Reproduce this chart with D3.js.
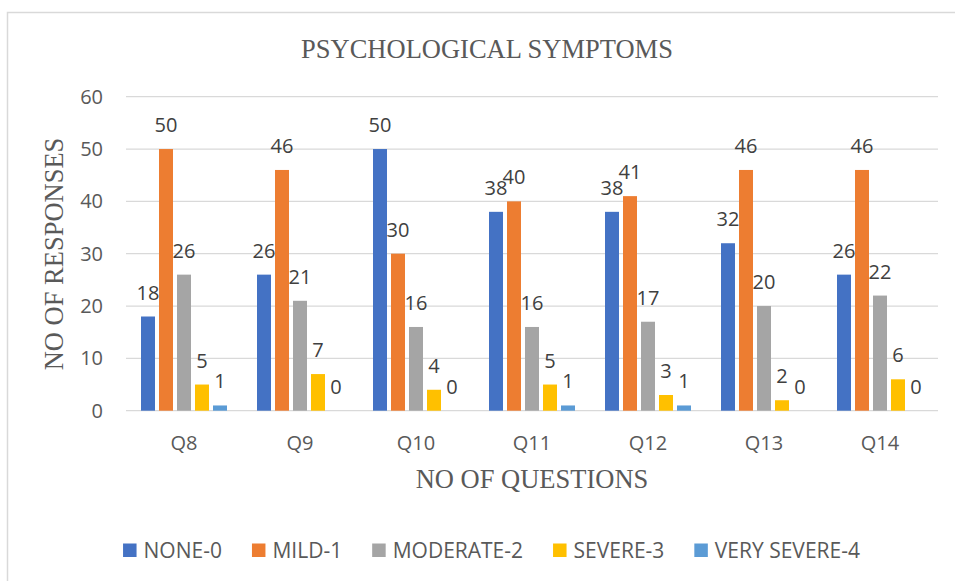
<!DOCTYPE html>
<html>
<head>
<meta charset="utf-8">
<script src="https://cdn.jsdelivr.net/npm/d3@7/dist/d3.min.js"></script>
<style>
  body { margin: 0; background: #fff; }
  svg { display: block; }
</style>
</head>
<body>
<svg width="955" height="581"></svg>
<script>
// chart data
var questions = ["Q8", "Q9", "Q10", "Q11", "Q12", "Q13", "Q14"];
var seriesNames = ["NONE-0", "MILD-1", "MODERATE-2", "SEVERE-3", "VERY SEVERE-4"];
var none0 = [18, 26, 50, 38, 38, 32, 26];
var mild1 = [50, 46, 30, 40, 41, 46, 46];
var moderate2 = [26, 21, 16, 16, 17, 20, 22];
var severe3 = [5, 7, 4, 5, 3, 2, 6];
var verySevere4 = [1, 0, 0, 1, 1, 0, 0];
var yTicks = [0, 10, 20, 30, 40, 50, 60];

var seriesValues = [none0, mild1, moderate2, severe3, verySevere4];
var colors = ["#4472C4", "#ED7D31", "#A5A5A5", "#FFC000", "#5B9BD5"];

var svg = d3.select("svg"),
    textColor = "#595959",
    sans = "'Open Sans', sans-serif",
    serif = "'Liberation Serif', 'Times New Roman', serif";

// plot area (note: "top" is a reserved window prop, so use other names)
var plotLeft = 126, plotRight = 938, plotTop = 96.7, plotBottom = 410.7;

// outer chart border (runs off the picture at right and bottom)
svg.append("rect")
    .attr("x", 7.5).attr("y", 12.5)
    .attr("width", 1000).attr("height", 1000)
    .attr("fill", "none")
    .attr("stroke", "#D9D9D9")
    .attr("stroke-width", 1.5);

var x0 = d3.scaleBand().domain(questions).range([plotLeft, plotRight]).padding(0);
var x1 = d3.scaleBand().domain(seriesNames).range([-43, 43]).paddingInner(0.2222);
var y = d3.scaleLinear().domain([0, 60]).range([plotBottom, plotTop]);

// gridlines
svg.append("g")
  .selectAll("line")
  .data(yTicks)
  .enter().append("line")
    .attr("x1", plotLeft).attr("x2", plotRight)
    .attr("y1", function(d) { return y(d); })
    .attr("y2", function(d) { return y(d); })
    .attr("stroke", "#D9D9D9")
    .attr("stroke-width", 1.3);

// y axis labels
var yAxis = svg.append("g")
    .attr("transform", "translate(" + plotLeft + ",0)")
    .call(d3.axisLeft(y).tickValues(yTicks).tickSize(0).tickPadding(23));
yAxis.select(".domain").remove();
yAxis.selectAll("text")
    .attr("fill", textColor)
    .style("font-family", sans)
    .style("font-size", "20px");

// x axis labels
var xAxis = svg.append("g")
    .attr("transform", "translate(0," + plotBottom + ")")
    .call(d3.axisBottom(x0).tickSize(0).tickPadding(0));
xAxis.select(".domain").remove();
xAxis.selectAll("text")
    .attr("dy", null)
    .attr("y", 39.5)
    .attr("fill", textColor)
    .style("font-family", sans)
    .style("font-size", "20px");

// bars
var groups = svg.append("g")
  .selectAll("g")
  .data(seriesNames)
  .enter().append("g")
    .attr("fill", function(d, i) { return colors[i]; });

groups.selectAll("rect")
  .data(function(d, i) {
      return seriesValues[i].map(function(v, j) { return { s: d, q: questions[j], v: v }; });
  })
  .enter().append("rect")
    .attr("x", function(d) { return x0(d.q) + x0.bandwidth() / 2 + x1(d.s); })
    .attr("y", function(d) { return y(d.v); })
    .attr("width", x1.bandwidth())
    .attr("height", function(d) { return y(0) - y(d.v); });

// data labels
var labels = svg.append("g")
    .attr("fill", "#404040")
    .style("font-family", sans)
    .style("font-size", "20px")
    .attr("text-anchor", "middle");

seriesNames.forEach(function(s, i) {
    labels.selectAll(".l" + i)
      .data(seriesValues[i])
      .enter().append("text")
        .attr("class", "l" + i)
        .attr("x", function(v, j) { return x0(questions[j]) + x0.bandwidth() / 2 + x1(s) + x1.bandwidth() / 2; })
        .attr("y", function(v) { return y(v) - 17; })
        .text(function(v) { return v; });
});

// titles
svg.append("text")
    .attr("x", 487).attr("y", 58)
    .attr("text-anchor", "middle")
    .attr("fill", textColor)
    .style("font-family", serif)
    .style("font-size", "26.5px")
    .text("PSYCHOLOGICAL SYMPTOMS");

svg.append("text")
    .attr("x", (plotLeft + plotRight) / 2).attr("y", 488)
    .attr("text-anchor", "middle")
    .attr("fill", textColor)
    .style("font-family", serif)
    .style("font-size", "26.5px")
    .text("NO OF QUESTIONS");

svg.append("text")
    .attr("transform", "translate(63,254) rotate(-90)")
    .attr("text-anchor", "middle")
    .attr("fill", textColor)
    .style("font-family", serif)
    .style("font-size", "26.5px")
    .text("NO OF RESPONSES");

// legend
var legend = svg.append("g");
var lx = 0;
seriesNames.forEach(function(s, i) {
    var item = legend.append("g").attr("transform", "translate(" + lx + ",0)");
    item.append("rect")
        .attr("x", 0).attr("y", 543.5)
        .attr("width", 13.5).attr("height", 13.5)
        .attr("fill", colors[i]);
    var t = item.append("text")
        .attr("x", 20.5).attr("y", 557.5)
        .attr("fill", textColor)
        .style("font-family", sans)
        .style("font-size", "21px")
        .text(s);
    lx += 20.5 + t.node().getComputedTextLength() + 30;
});
var lw = lx - 30;
legend.attr("transform", "translate(" + (491.5 - lw / 2) + ",0)");
</script>
</body>
</html>
